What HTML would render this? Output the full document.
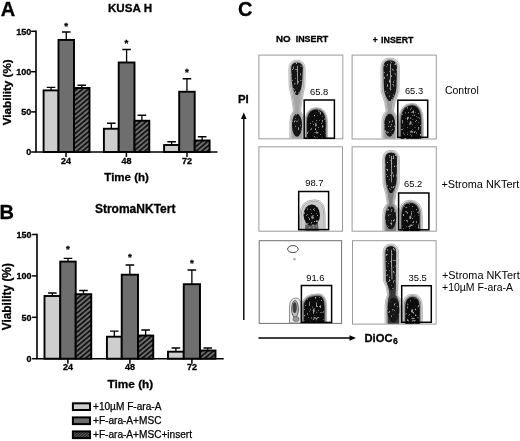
<!DOCTYPE html>
<html><head><meta charset="utf-8"><title>Figure</title>
<style>
html,body{margin:0;padding:0;background:#fff;}
body{width:520px;height:441px;overflow:hidden;}
svg{display:block;font-family:"Liberation Sans",Arial,sans-serif;}
.b{font-weight:bold;stroke:#000;stroke-width:.3px;}
</style></head><body>
<svg width="520" height="441" viewBox="0 0 520 441">
<defs>
<pattern id="hatch" width="3.65" height="3.65" patternUnits="userSpaceOnUse" patternTransform="rotate(-40)">
<rect width="3.65" height="3.65" fill="#6e6e6e"/>
<rect width="3.65" height="1.8" fill="#141414"/>
</pattern>
<pattern id="hatch2" width="1.9" height="1.9" patternUnits="userSpaceOnUse" patternTransform="rotate(-40)">
<rect width="1.9" height="1.9" fill="#6a6a6a"/>
<rect width="1.9" height="1.1" fill="#1a1a1a"/>
</pattern>
<radialGradient id="blob" cx="50%" cy="55%" r="50%">
<stop offset="0" stop-color="#000"/><stop offset="0.6" stop-color="#111"/><stop offset="0.8" stop-color="#444"/><stop offset="0.92" stop-color="#999"/><stop offset="1" stop-color="#ddd"/>
</radialGradient>
<filter id="bl" x="-20%" y="-20%" width="140%" height="140%"><feGaussianBlur stdDeviation="0.6"/></filter>
<filter id="bl2" x="-20%" y="-20%" width="140%" height="140%"><feGaussianBlur stdDeviation="0.35"/></filter>
<filter id="tex" x="-10%" y="-10%" width="120%" height="120%">
<feTurbulence type="fractalNoise" baseFrequency="0.55 0.35" numOctaves="2" seed="7" result="n"/>
<feColorMatrix in="n" type="matrix" values="0 0 0 0 0.6  0 0 0 0 0.6  0 0 0 0 0.6  4 0 0 0 -2.5" result="spots"/>
<feComposite in="spots" in2="SourceGraphic" operator="in" result="sp"/>
<feMerge><feMergeNode in="SourceGraphic"/><feMergeNode in="sp"/></feMerge>
<feGaussianBlur stdDeviation="0.45"/>
</filter>
</defs>
<rect width="520" height="441" fill="#fff"/>

<g filter="url(#bl2)">
<path d="M51.05 90.40V87.30M46.75 87.30H55.35" stroke="#000" stroke-width="1.3" fill="none"/>
<rect x="43.60" y="90.40" width="14.90" height="61.60" fill="#cecece" stroke="#000" stroke-width="1.9"/>
<path d="M66.25 39.90V32.00M61.95 32.00H70.55" stroke="#000" stroke-width="1.3" fill="none"/>
<rect x="58.50" y="39.90" width="15.50" height="112.10" fill="#6e6e6e" stroke="#000" stroke-width="1.9"/>
<path d="M81.75 88.00V85.25M77.45 85.25H86.05" stroke="#000" stroke-width="1.3" fill="none"/>
<rect x="74.00" y="88.00" width="15.50" height="64.00" fill="url(#hatch)" stroke="#000" stroke-width="1.9"/>
<path d="M111.30 128.75V123.25M107.00 123.25H115.60" stroke="#000" stroke-width="1.3" fill="none"/>
<rect x="103.90" y="128.75" width="14.80" height="23.25" fill="#cecece" stroke="#000" stroke-width="1.9"/>
<path d="M126.60 62.50V49.50M122.30 49.50H130.90" stroke="#000" stroke-width="1.3" fill="none"/>
<rect x="118.70" y="62.50" width="15.80" height="89.50" fill="#6e6e6e" stroke="#000" stroke-width="1.9"/>
<path d="M141.90 120.75V115.25M137.60 115.25H146.20" stroke="#000" stroke-width="1.3" fill="none"/>
<rect x="134.50" y="120.75" width="14.80" height="31.25" fill="url(#hatch)" stroke="#000" stroke-width="1.9"/>
<path d="M171.65 145.00V141.75M167.35 141.75H175.95" stroke="#000" stroke-width="1.3" fill="none"/>
<rect x="164.10" y="145.00" width="15.10" height="7.00" fill="#cecece" stroke="#000" stroke-width="1.9"/>
<path d="M186.95 91.75V78.75M182.65 78.75H191.25" stroke="#000" stroke-width="1.3" fill="none"/>
<rect x="179.20" y="91.75" width="15.50" height="60.25" fill="#6e6e6e" stroke="#000" stroke-width="1.9"/>
<path d="M202.15 140.50V136.75M197.85 136.75H206.45" stroke="#000" stroke-width="1.3" fill="none"/>
<rect x="194.70" y="140.50" width="14.90" height="11.50" fill="url(#hatch)" stroke="#000" stroke-width="1.9"/>
<path d="M36 30.60V152H217.5" stroke="#000" stroke-width="1.6" fill="none"/>
<path d="M31.1 31.3H36" stroke="#000" stroke-width="1.5"/>
<text class="b" x="31.2" y="34.50" font-size="9" text-anchor="end">150</text>
<path d="M31.1 71.7H36" stroke="#000" stroke-width="1.5"/>
<text class="b" x="31.2" y="74.90" font-size="9" text-anchor="end">100</text>
<path d="M31.1 111.9H36" stroke="#000" stroke-width="1.5"/>
<text class="b" x="31.2" y="115.10" font-size="9" text-anchor="end">50</text>
<path d="M31.1 152H36" stroke="#000" stroke-width="1.5"/>
<text class="b" x="31.2" y="155.20" font-size="9" text-anchor="end">0</text>
<path d="M66 152V157" stroke="#000" stroke-width="1.5"/>
<text class="b" x="66" y="163.6" font-size="9" text-anchor="middle">24</text>
<path d="M126.4 152V157" stroke="#000" stroke-width="1.5"/>
<text class="b" x="126.4" y="163.6" font-size="9" text-anchor="middle">48</text>
<path d="M187 152V157" stroke="#000" stroke-width="1.5"/>
<text class="b" x="187" y="163.6" font-size="9" text-anchor="middle">72</text>
<text class="b" x="66.2" y="28.90" font-size="9.8" text-anchor="middle">*</text>
<text class="b" x="126.4" y="45.70" font-size="9.8" text-anchor="middle">*</text>
<text class="b" x="187" y="75.40" font-size="9.8" text-anchor="middle">*</text>
<text class="b" x="130" y="11.75" font-size="11.6" text-anchor="middle">KUSA H</text>
<text class="b" x="126.6" y="180.5" font-size="11.5" text-anchor="middle">Time (h)</text>
<text class="b" x="0.8" y="16.4" font-size="20">A</text>
<text class="b" transform="translate(11 92.3) rotate(-90)" font-size="11.7" text-anchor="middle">Viability (%)</text>
</g>
<g filter="url(#bl2)">
<path d="M52.38 296.00V293.00M48.08 293.00H56.67" stroke="#000" stroke-width="1.3" fill="none"/>
<rect x="44.50" y="296.00" width="15.75" height="62.70" fill="#cecece" stroke="#000" stroke-width="1.9"/>
<path d="M67.97 261.60V258.40M63.67 258.40H72.27" stroke="#000" stroke-width="1.3" fill="none"/>
<rect x="60.25" y="261.60" width="15.45" height="97.10" fill="#6e6e6e" stroke="#000" stroke-width="1.9"/>
<path d="M83.47 294.20V290.50M79.17 290.50H87.77" stroke="#000" stroke-width="1.3" fill="none"/>
<rect x="75.70" y="294.20" width="15.55" height="64.50" fill="url(#hatch)" stroke="#000" stroke-width="1.9"/>
<path d="M114.33 336.70V331.20M110.03 331.20H118.62" stroke="#000" stroke-width="1.3" fill="none"/>
<rect x="106.90" y="336.70" width="14.85" height="22.00" fill="#cecece" stroke="#000" stroke-width="1.9"/>
<path d="M129.88 274.70V265.00M125.58 265.00H134.18" stroke="#000" stroke-width="1.3" fill="none"/>
<rect x="121.75" y="274.70" width="16.25" height="84.00" fill="#6e6e6e" stroke="#000" stroke-width="1.9"/>
<path d="M145.62 335.50V330.00M141.32 330.00H149.93" stroke="#000" stroke-width="1.3" fill="none"/>
<rect x="138.00" y="335.50" width="15.25" height="23.20" fill="url(#hatch)" stroke="#000" stroke-width="1.9"/>
<path d="M175.88 351.70V348.00M171.57 348.00H180.18" stroke="#000" stroke-width="1.3" fill="none"/>
<rect x="168.00" y="351.70" width="15.75" height="7.00" fill="#cecece" stroke="#000" stroke-width="1.9"/>
<path d="M191.88 284.20V270.00M187.57 270.00H196.18" stroke="#000" stroke-width="1.3" fill="none"/>
<rect x="183.75" y="284.20" width="16.25" height="74.50" fill="#6e6e6e" stroke="#000" stroke-width="1.9"/>
<path d="M207.75 350.50V348.00M203.45 348.00H212.05" stroke="#000" stroke-width="1.3" fill="none"/>
<rect x="200.00" y="350.50" width="15.50" height="8.20" fill="url(#hatch)" stroke="#000" stroke-width="1.9"/>
<path d="M37 233.80V358.7H223.75" stroke="#000" stroke-width="1.6" fill="none"/>
<path d="M32.1 234.5H37" stroke="#000" stroke-width="1.5"/>
<text class="b" x="31.6" y="237.70" font-size="9" text-anchor="end">150</text>
<path d="M32.1 275.9H37" stroke="#000" stroke-width="1.5"/>
<text class="b" x="31.6" y="279.10" font-size="9" text-anchor="end">100</text>
<path d="M32.1 317.3H37" stroke="#000" stroke-width="1.5"/>
<text class="b" x="31.6" y="320.50" font-size="9" text-anchor="end">50</text>
<path d="M32.1 358.7H37" stroke="#000" stroke-width="1.5"/>
<text class="b" x="31.6" y="361.90" font-size="9" text-anchor="end">0</text>
<path d="M67.9 358.7V363.7" stroke="#000" stroke-width="1.5"/>
<text class="b" x="67.9" y="370.2" font-size="9" text-anchor="middle">24</text>
<path d="M129.9 358.7V363.7" stroke="#000" stroke-width="1.5"/>
<text class="b" x="129.9" y="370.2" font-size="9" text-anchor="middle">48</text>
<path d="M191.9 358.7V363.7" stroke="#000" stroke-width="1.5"/>
<text class="b" x="191.9" y="370.2" font-size="9" text-anchor="middle">72</text>
<text class="b" x="67.9" y="251.70" font-size="9.8" text-anchor="middle">*</text>
<text class="b" x="129.9" y="259.70" font-size="9.8" text-anchor="middle">*</text>
<text class="b" x="191.9" y="265.95" font-size="9.8" text-anchor="middle">*</text>
<text class="b" x="135.2" y="213.3" font-size="12" text-anchor="middle">StromaNKTert</text>
<text class="b" x="130.4" y="387.5" font-size="11.8" text-anchor="middle">Time (h)</text>
<text class="b" x="-0.5" y="218.8" font-size="20">B</text>
<text class="b" transform="translate(11 296.7) rotate(-90)" font-size="11.9" text-anchor="middle">Viability (%)</text>
</g>
<g filter="url(#bl2)">
<rect x="72.9" y="403.30" width="17.1" height="6.7" fill="#cecece" stroke="#000" stroke-width="2"/>
<text x="93.0" stroke="#000" stroke-width="0.25" y="410.20" font-size="10.1">+10µM F-ara-A</text>
<rect x="72.9" y="417.40" width="17.1" height="6.7" fill="#6e6e6e" stroke="#000" stroke-width="2"/>
<text x="93.0" stroke="#000" stroke-width="0.25" y="424.20" font-size="10.1">+F-ara-A+MSC</text>
<rect x="72.9" y="431.40" width="17.1" height="6.7" fill="url(#hatch2)" stroke="#000" stroke-width="2"/>
<text x="93.0" stroke="#000" stroke-width="0.25" y="438.00" font-size="10.1">+F-ara-A+MSC+insert</text>
</g>
<g filter="url(#bl2)">
<text class="b" x="238.1" y="15.7" font-size="20">C</text>
<text class="b" x="275.9" y="42.2" font-size="9.3" textLength="14.6" lengthAdjust="spacingAndGlyphs">NO</text>
<text class="b" x="295.7" y="42.2" font-size="9.3" textLength="32.6" lengthAdjust="spacingAndGlyphs">INSERT</text>
<text class="b" x="372.8" y="42.9" font-size="8.4">+</text>
<text class="b" x="381.1" y="42.9" font-size="9.3" textLength="32.4" lengthAdjust="spacingAndGlyphs">INSERT</text>
<text class="b" x="237.9" y="103.1" font-size="11.4">PI</text>
<text class="b" x="364.5" y="342.1" font-size="11.2">DiOC<tspan font-size="8.6" dy="1.6" dx="0.6">6</tspan></text>
<path d="M243.8 320V117" stroke="#000" stroke-width="1.4"/><path d="M243.8 112.6L246.6 119H241L243.8 112.6Z" fill="#000"/>
<path d="M258.5 338H351.5" stroke="#000" stroke-width="1.3"/><path d="M356 338L349.5 335.2V340.8Z" fill="#000"/>
<text x="444.9" y="94.4" font-size="10.5">Control</text>
<text x="441.4" y="187.9" font-size="10.9">+Stroma NKTert</text>
<text x="442" y="279.0" font-size="10.9">+Stroma NKTert</text>
<text x="442" y="291.0" font-size="10.5">+10µM F-ara-A</text>
</g>
<g>
<rect x="258.9" y="55.1" width="83.90000000000003" height="83.70000000000002" fill="#fff" stroke="#9a9a9a" stroke-width="1"/>
<clipPath id="cp258_55"><rect x="258.9" y="55.1" width="83.90000000000003" height="83.40000000000002"/></clipPath>
<g clip-path="url(#cp258_55)"><g filter="url(#bl)"><path d="M288.8 69.5Q288.8 60.2 297.0 60.2Q305.2 60.2 305.2 69.5L304.9 86.0Q301.4 102.0 300.6 111.0Q304.2 115.0 304.2 122.0V140.0H289.8V122.0Q289.8 115.0 293.4 111.0Q292.6 102.0 289.1 86.0Z" fill="#f7f7f7" stroke="#909090" stroke-width="0.6"/><path d="M290.1 69.5Q290.1 61.5 297.0 61.5Q303.9 61.5 303.9 69.5L303.6 86.0Q300.4 102.0 299.6 111.0Q302.9 115.0 302.9 122.0V140.0H291.1V122.0Q291.1 115.0 294.4 111.0Q293.6 102.0 290.4 86.0Z" fill="#d4d4d4" stroke="#6a6a6a" stroke-width="0.5"/><path d="M291.1 69.5Q291.1 62.6 297.0 62.6Q302.9 62.6 302.9 69.5L302.5 86.0Q299.6 102.0 298.8 111.0Q301.9 115.0 301.9 122.0V140.0H292.1V122.0Q292.1 115.0 295.2 111.0Q294.4 102.0 291.5 86.0Z" fill="#a4a4a4"/></g><g filter="url(#tex)"><path d="M291.2 68.3Q291.2 62.4 297.0 62.4Q302.8 62.4 302.8 68.3L302.2 82.0Q301.8 89.0 298.2 95.0H295.8Q292.2 89.0 291.8 82.0Z" fill="#141414"/><ellipse cx="297.0" cy="125.2" rx="5.0" ry="11.5" fill="#141414"/></g><path d="M297.4 66.2L297.3 84.0" stroke="#b5b5b5" stroke-width="0.9" stroke-linecap="round" filter="url(#bl2)"/><g filter="url(#bl)"><path d="M304.9 140.0V123.3Q304.9 107.6 316.2 107.6Q327.6 107.6 327.6 123.3V140.0Z" fill="#f6f6f6" stroke="#8c8c8c" stroke-width="0.6"/><path d="M305.9 140.0V123.6Q305.9 108.6 316.2 108.6Q326.6 108.6 326.6 123.6V140.0Z" fill="#b0b0b0" stroke="#555" stroke-width="0.5"/><path d="M306.6 140.0V123.8Q306.6 109.3 316.2 109.3Q325.9 109.3 325.9 123.8V140.0Z" fill="#444"/></g><g filter="url(#tex)"><path d="M307.1 140.0V124.0Q307.1 109.8 316.2 109.8Q325.4 109.8 325.4 124.0V140.0Z" fill="#0c0c0c"/></g><g fill="#999" filter="url(#bl2)"><ellipse cx="315.9" cy="124.9" rx="0.9" ry="1.8"/><ellipse cx="316.9" cy="132.7" rx="1.8" ry="0.8"/></g></g>
<rect x="304.2" y="100" width="30.19999999999999" height="38.19999999999999" fill="none" stroke="#000" stroke-width="1.5" filter="url(#bl2)"/>
<text x="319.2" y="94.70" font-size="9.4" text-anchor="middle" filter="url(#bl2)">65.8</text>
</g>
<g>
<rect x="352.1" y="55.1" width="84.19999999999999" height="83.9" fill="#fff" stroke="#9a9a9a" stroke-width="1"/>
<clipPath id="cp352_55"><rect x="352.1" y="55.1" width="84.19999999999999" height="83.60000000000001"/></clipPath>
<g clip-path="url(#cp352_55)"><g filter="url(#bl)"><path d="M380.9 68.2Q380.9 58.0 390.1 58.0Q399.4 58.0 399.4 68.2L399.0 92.0Q394.2 102.0 393.4 111.0Q397.4 115.0 397.4 122.0V140.0H381.9V122.0Q381.9 115.0 386.2 111.0Q385.4 102.0 381.2 92.0Z" fill="#f7f7f7" stroke="#909090" stroke-width="0.6"/><path d="M382.2 68.2Q382.2 59.3 390.1 59.3Q398.1 59.3 398.1 68.2L397.7 92.0Q393.3 102.0 392.5 111.0Q396.1 115.0 396.1 122.0V140.0H383.2V122.0Q383.2 115.0 387.2 111.0Q386.4 102.0 382.6 92.0Z" fill="#d4d4d4" stroke="#6a6a6a" stroke-width="0.5"/><path d="M383.2 68.2Q383.2 60.4 390.1 60.4Q397.0 60.4 397.0 68.2L396.6 92.0Q392.4 102.0 391.6 111.0Q395.1 115.0 395.1 122.0V140.0H384.3V122.0Q384.3 115.0 388.0 111.0Q387.2 102.0 383.6 92.0Z" fill="#999"/></g><g filter="url(#tex)"><path d="M383.4 67.2Q383.4 60.2 390.1 60.2Q396.9 60.2 396.9 67.2L396.4 88.0Q395.9 95.0 391.2 101.0H388.8Q384.4 95.0 383.9 88.0Z" fill="#141414"/><ellipse cx="389.7" cy="125.2" rx="5.5" ry="11.5" fill="#141414"/></g><path d="M390.5 64.0L390.3 90.0" stroke="#b5b5b5" stroke-width="0.9" stroke-linecap="round" filter="url(#bl2)"/><g filter="url(#bl)"><path d="M398.6 140.0V122.9Q398.6 103.3 412.2 103.3Q423.3 103.3 423.3 122.9V140.0Z" fill="#f6f6f6" stroke="#8c8c8c" stroke-width="0.6"/><path d="M399.6 140.0V123.2Q399.6 104.3 412.2 104.3Q422.3 104.3 422.3 123.2V140.0Z" fill="#b0b0b0" stroke="#555" stroke-width="0.5"/><path d="M400.4 140.0V123.5Q400.4 105.1 412.2 105.1Q421.5 105.1 421.5 123.5V140.0Z" fill="#444"/></g><g filter="url(#tex)"><path d="M401.0 140.0V123.7Q401.0 105.7 412.2 105.7Q420.9 105.7 420.9 123.7V140.0Z" fill="#0c0c0c"/></g><g fill="#999" filter="url(#bl2)"><ellipse cx="410.7" cy="122.9" rx="0.9" ry="1.8"/><ellipse cx="411.6" cy="131.9" rx="1.8" ry="0.8"/></g></g>
<rect x="397.8" y="100.2" width="29.899999999999977" height="37.10000000000001" fill="none" stroke="#000" stroke-width="1.5" filter="url(#bl2)"/>
<text x="414" y="94.10" font-size="9.4" text-anchor="middle" filter="url(#bl2)">65.3</text>
</g>
<g>
<rect x="258.9" y="146.8" width="83.60000000000002" height="84.39999999999998" fill="#fff" stroke="#9a9a9a" stroke-width="1"/>
<clipPath id="cp258_146"><rect x="258.9" y="146.8" width="83.60000000000002" height="84.09999999999998"/></clipPath>
<g clip-path="url(#cp258_146)"><g filter="url(#bl)"><path d="M299.8 232.5V215.7Q299.8 199.8 315.0 199.8Q325.2 199.8 325.2 215.7V232.5Z" fill="#f6f6f6" stroke="#8c8c8c" stroke-width="0.6"/><path d="M301.1 232.5V216.0Q301.1 201.1 315.0 201.1Q323.9 201.1 323.9 216.0V232.5Z" fill="#e2e2e2" stroke="#555" stroke-width="0.5"/><path d="M302.1 232.5V216.3Q302.1 202.1 315.0 202.1Q322.9 202.1 322.9 216.3V232.5Z" fill="#c8c8c8"/></g><g filter="url(#tex)"><path d="M304.5 232.5L306.0 220.0H317.5L319.0 232.5Z" fill="#5e5e5e"/><ellipse cx="311.8" cy="215.2" rx="8.2" ry="10.8" fill="#0c0c0c"/></g><g fill="#999" filter="url(#bl2)"><ellipse cx="312.2" cy="217.2" rx="0.9" ry="1.8"/><ellipse cx="313.1" cy="225.2" rx="1.8" ry="0.8"/></g></g>
<rect x="298.7" y="191.5" width="29.900000000000034" height="38.099999999999994" fill="none" stroke="#000" stroke-width="1.5" filter="url(#bl2)"/>
<text x="314.3" y="185.80" font-size="9.4" text-anchor="middle" filter="url(#bl2)">98.7</text>
</g>
<g>
<rect x="352.1" y="146.8" width="84.19999999999999" height="84.39999999999998" fill="#fff" stroke="#9a9a9a" stroke-width="1"/>
<clipPath id="cp352_146"><rect x="352.1" y="146.8" width="84.19999999999999" height="84.09999999999998"/></clipPath>
<g clip-path="url(#cp352_146)"><g filter="url(#bl)"><path d="M382.7 159.7Q382.7 150.3 391.1 150.3Q399.5 150.3 399.5 159.7L399.1 184.0Q395.2 194.5 394.4 203.5Q398.4 207.5 398.4 214.5V232.5H382.9V214.5Q382.9 207.5 387.2 203.5Q386.4 194.5 383.1 184.0Z" fill="#f7f7f7" stroke="#909090" stroke-width="0.6"/><path d="M384.0 159.7Q384.0 151.6 391.1 151.6Q398.2 151.6 398.2 159.7L397.8 184.0Q394.3 194.5 393.5 203.5Q397.1 207.5 397.1 214.5V232.5H384.2V214.5Q384.2 207.5 388.2 203.5Q387.4 194.5 384.4 184.0Z" fill="#d4d4d4" stroke="#6a6a6a" stroke-width="0.5"/><path d="M385.1 159.7Q385.1 152.7 391.1 152.7Q397.1 152.7 397.1 159.7L396.7 184.0Q393.4 194.5 392.6 203.5Q396.1 207.5 396.1 214.5V232.5H385.3V214.5Q385.3 207.5 389.0 203.5Q388.2 194.5 385.5 184.0Z" fill="#808080"/></g><g filter="url(#tex)"><path d="M385.2 158.6Q385.2 152.5 391.1 152.5Q397.0 152.5 397.0 158.6L396.5 180.0Q396.0 187.0 392.2 193.0H389.8Q386.2 187.0 385.7 180.0Z" fill="#141414"/><ellipse cx="390.7" cy="217.8" rx="5.5" ry="11.5" fill="#141414"/></g><path d="M391.5 156.3L391.3 182.0" stroke="#b5b5b5" stroke-width="0.9" stroke-linecap="round" filter="url(#bl2)"/><g filter="url(#bl)"><path d="M398.8 232.5V215.8Q398.8 200.2 410.1 200.2Q422.3 200.2 422.3 215.8V232.5Z" fill="#f6f6f6" stroke="#8c8c8c" stroke-width="0.6"/><path d="M400.1 232.5V216.2Q400.1 201.5 410.1 201.5Q421.0 201.5 421.0 216.2V232.5Z" fill="#b0b0b0" stroke="#555" stroke-width="0.5"/><path d="M401.1 232.5V216.5Q401.1 202.5 410.1 202.5Q420.0 202.5 420.0 216.5V232.5Z" fill="#444"/></g><g filter="url(#tex)"><path d="M401.8 232.5V216.8Q401.8 203.2 410.1 203.2Q419.3 203.2 419.3 216.8V232.5Z" fill="#0c0c0c"/></g><g fill="#999" filter="url(#bl2)"><ellipse cx="410.2" cy="217.4" rx="0.9" ry="1.8"/><ellipse cx="411.2" cy="225.2" rx="1.8" ry="0.8"/></g></g>
<rect x="398.6" y="193.0" width="30.299999999999955" height="36.80000000000001" fill="none" stroke="#000" stroke-width="1.5" filter="url(#bl2)"/>
<text x="413.2" y="187.20" font-size="9.4" text-anchor="middle" filter="url(#bl2)">65.2</text>
</g>
<g>
<rect x="259.2" y="240.7" width="82.40000000000003" height="82.69999999999999" fill="#fff" stroke="#707070" stroke-width="1"/>
<clipPath id="cp259_240"><rect x="259.2" y="240.7" width="82.40000000000003" height="82.39999999999999"/></clipPath>
<g clip-path="url(#cp259_240)"><ellipse cx="292.9" cy="249.1" rx="5.3" ry="3.5" fill="none" stroke="#333" stroke-width="0.9"/><circle cx="294.5" cy="259.2" r="0.9" fill="none" stroke="#666" stroke-width="0.6"/><g filter="url(#bl)"><path d="M289.5 323V306Q290 298 296 298Q301 298 301 306V323Z" fill="#e8e8e8" stroke="#666" stroke-width="0.7"/><ellipse cx="295" cy="309" rx="3.4" ry="8.5" fill="#bbb" stroke="#333" stroke-width="0.7"/><ellipse cx="294.7" cy="307.5" rx="2.1" ry="5.5" fill="#3c3c3c"/><ellipse cx="296" cy="319" rx="3" ry="2.5" fill="#999" stroke="#444" stroke-width="0.5"/></g><g filter="url(#bl)"><path d="M301.6 325.0V306.5Q301.6 293.8 318.6 293.8Q326.6 293.8 326.6 306.5V325.0Z" fill="#f6f6f6" stroke="#8c8c8c" stroke-width="0.6"/><path d="M302.6 325.0V306.8Q302.6 294.8 318.6 294.8Q325.6 294.8 325.6 306.8V325.0Z" fill="#b0b0b0" stroke="#555" stroke-width="0.5"/><path d="M303.4 325.0V307.0Q303.4 295.6 318.6 295.6Q324.8 295.6 324.8 307.0V325.0Z" fill="#444"/></g><g filter="url(#tex)"><path d="M304.0 325.0V307.2Q304.0 296.2 318.6 296.2Q324.2 296.2 324.2 307.2V325.0Z" fill="#0c0c0c"/></g><g fill="#999" filter="url(#bl2)"><ellipse cx="313.8" cy="310.4" rx="0.9" ry="1.8"/><ellipse cx="314.7" cy="318.0" rx="1.8" ry="0.8"/></g></g>
<rect x="301.4" y="285.5" width="30.200000000000045" height="36.89999999999998" fill="none" stroke="#000" stroke-width="1.5" filter="url(#bl2)"/>
<text x="315.3" y="281.40" font-size="9.4" text-anchor="middle" filter="url(#bl2)">91.6</text>
</g>
<g>
<rect x="352.5" y="240.7" width="83.60000000000002" height="83.40000000000003" fill="#fff" stroke="#9a9a9a" stroke-width="1"/>
<clipPath id="cp352_240"><rect x="352.5" y="240.7" width="83.60000000000002" height="83.10000000000004"/></clipPath>
<g clip-path="url(#cp352_240)"><g filter="url(#bl)"><path d="M383.1 252.8Q383.1 244.0 390.8 244.0Q398.6 244.0 398.6 252.8L398.2 281.0Q398.2 286.0 397.4 295.0Q401.6 299.0 401.6 306.0V325.6H385.1V306.0Q385.1 299.0 387.6 295.0Q386.8 286.0 383.4 281.0Z" fill="#f7f7f7" stroke="#909090" stroke-width="0.6"/><path d="M384.4 252.8Q384.4 245.3 390.8 245.3Q397.2 245.3 397.2 252.8L396.9 281.0Q397.3 286.0 396.5 295.0Q400.3 299.0 400.3 306.0V325.6H386.4V306.0Q386.4 299.0 388.6 295.0Q387.8 286.0 384.8 281.0Z" fill="#d4d4d4" stroke="#6a6a6a" stroke-width="0.5"/><path d="M385.4 252.8Q385.4 246.4 390.8 246.4Q396.2 246.4 396.2 252.8L395.8 281.0Q396.4 286.0 395.6 295.0Q399.2 299.0 399.2 306.0V325.6H387.5V306.0Q387.5 299.0 389.4 295.0Q388.6 286.0 385.8 281.0Z" fill="#383838"/></g><g filter="url(#tex)"><path d="M385.6 251.7Q385.6 246.2 390.8 246.2Q396.1 246.2 396.1 251.7L395.6 277.0Q395.1 284.0 392.9 290.0H390.5Q386.6 284.0 386.1 277.0Z" fill="#141414"/><ellipse cx="393.4" cy="310.1" rx="6.0" ry="12.3" fill="#141414"/></g><path d="M391.2 250.0L392.0 279.0" stroke="#b5b5b5" stroke-width="0.9" stroke-linecap="round" filter="url(#bl2)"/><g filter="url(#bl)"><path d="M402.6 325.6V306.4Q402.6 294.2 412.5 294.2Q422.3 294.2 422.3 306.4V325.6Z" fill="#f6f6f6" stroke="#8c8c8c" stroke-width="0.6"/><path d="M403.9 325.6V306.8Q403.9 295.5 412.5 295.5Q421.0 295.5 421.0 306.8V325.6Z" fill="#b0b0b0" stroke="#555" stroke-width="0.5"/><path d="M404.9 325.6V307.1Q404.9 296.5 412.5 296.5Q420.0 296.5 420.0 307.1V325.6Z" fill="#444"/></g><g filter="url(#tex)"><path d="M405.6 325.6V307.3Q405.6 297.2 412.5 297.2Q419.3 297.2 419.3 307.3V325.6Z" fill="#0c0c0c"/></g><g fill="#999" filter="url(#bl2)"><ellipse cx="412.2" cy="310.9" rx="0.9" ry="1.8"/><ellipse cx="413.1" cy="318.5" rx="1.8" ry="0.8"/></g></g>
<rect x="401.7" y="285.7" width="29.600000000000023" height="36.60000000000002" fill="none" stroke="#000" stroke-width="1.5" filter="url(#bl2)"/>
<text x="417.7" y="281.40" font-size="9.4" text-anchor="middle" filter="url(#bl2)">35.5</text>
</g>
</svg></body></html>
